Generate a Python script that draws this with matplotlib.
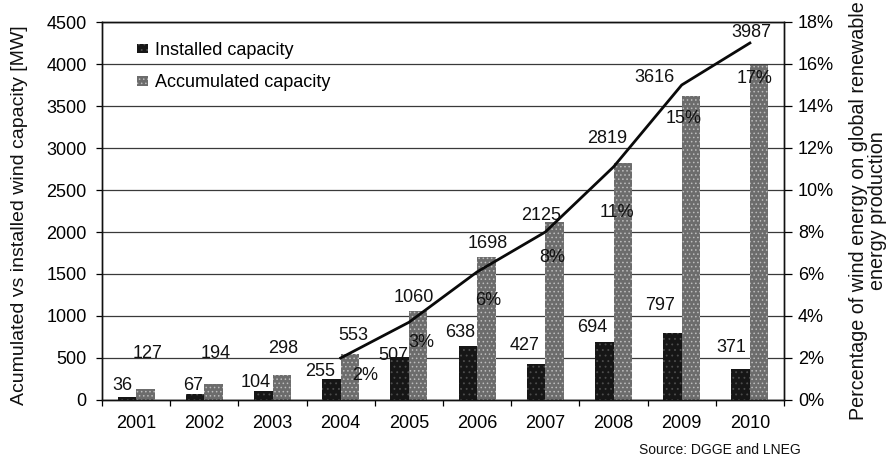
import numpy as np
import matplotlib
matplotlib.use('Agg')
import matplotlib.pyplot as plt
from matplotlib.ticker import FixedLocator, FuncFormatter

# ---------------- data ----------------
years = ['2001', '2002', '2003', '2004', '2005', '2006', '2007', '2008', '2009', '2010']
installed = [36, 67, 104, 255, 507, 638, 427, 694, 797, 371]
accumulated = [127, 194, 298, 553, 1060, 1698, 2125, 2819, 3616, 3987]
pct_years = ['2004', '2005', '2006', '2007', '2008', '2009', '2010']
pct_share = [2.0, 3.7, 6.1, 8.0, 11.1, 15.0, 17.0]
pct_labels = ['2%', '3%', '6%', '8%', '11%', '15%', '17%']
left_ticks = [0, 500, 1000, 1500, 2000, 2500, 3000, 3500, 4000, 4500]
right_ticks = [0, 2, 4, 6, 8, 10, 12, 14, 16, 18]
series_names = ['Installed capacity', 'Accumulated capacity']
left_title = 'Acumulated vs installed wind capacity [MW]'
right_title = 'Percentage of wind energy on global renewable\nenergy production'
source = 'Source: DGGE and LNEG'

# ------------- label placement (pixel offsets, style only) -------------
inst_dx = [-4, -1, -2, -6, -1, -2, -6, -6, -7, -4]
inst_dy = [7, 4, 4, 3, -3, 9, 14, 10, 23, 17]
acc_dx = [2, 2, 1, 3, -4, 1, -13, -16, -36, -8]
acc_dy = [31, 26, 22, 14, 9, 9, 2, 20, 14, 28]
pct_dx = [24, 12, 11, 7, 3, 2, 5]
pct_dy = [-22, -25, -33, -30, -50, -38, -40]

plt.rcParams['font.family'] = ['Liberation Sans', 'DejaVu Sans']
plt.rcParams['hatch.linewidth'] = 0.6
FS = 13

W, H = 888, 459
fig = plt.figure(figsize=(W / 100, H / 100), dpi=100)
ax = fig.add_axes([102 / W, 1 - 400 / H, 682 / W, 378 / H])
ax2 = ax.twinx()

x = np.arange(len(years))
bw = 0.27
b1 = ax.bar(x - bw / 2, installed, bw, color='#161616', edgecolor='#4d4d4d',
            linewidth=0, hatch='...', zorder=2, label=series_names[0])
b2 = ax.bar(x + bw / 2, accumulated, bw, color='#6c6c6c', edgecolor='#bdbdbd',
            linewidth=0, hatch='....', zorder=2, label=series_names[1])

ax.set_xlim(-0.5, len(years) - 0.5)
ax.set_ylim(left_ticks[0], left_ticks[-1])
ax.yaxis.set_major_locator(FixedLocator(left_ticks))
ax.yaxis.grid(True, color='#3a3a3a', linewidth=0.9, zorder=0)
ax.set_axisbelow(True)
ax.set_xticks(x)
ax.set_xticklabels(years)
ax.xaxis.set_minor_locator(FixedLocator(np.arange(-0.5, len(years), 1.0)))
ax.tick_params(axis='x', which='major', length=0, pad=11, labelsize=FS)
ax.tick_params(axis='x', which='minor', length=4, width=0.9, direction='out')
ax.tick_params(axis='y', which='major', length=4, width=0.9, pad=7, labelsize=FS)
for s in ax.spines.values():
    s.set_linewidth(1.0)
    s.set_color('#111111')

ax2.set_ylim(right_ticks[0], right_ticks[-1])
ax2.yaxis.set_major_locator(FixedLocator(right_ticks))
ax2.yaxis.set_major_formatter(FuncFormatter(lambda v, p: f'{int(v)}%'))
ax2.tick_params(axis='y', length=6, width=0.9, pad=4, labelsize=FS)
for s in ax2.spines.values():
    s.set_linewidth(1.0)
    s.set_color('#111111')

px = [years.index(y) for y in pct_years]
ax2.plot(px, pct_share, color='#0a0a0a', linewidth=2.0, zorder=5)

# value labels
for i, v in enumerate(installed):
    ax.annotate(str(v), xy=(x[i], v), xytext=(inst_dx[i], inst_dy[i]),
                textcoords='offset pixels', ha='right', va='baseline',
                fontsize=FS, color='#111111', zorder=6)
for i, v in enumerate(accumulated):
    ax.annotate(str(v), xy=(x[i] + bw / 2, v), xytext=(acc_dx[i], acc_dy[i]),
                textcoords='offset pixels', ha='center', va='baseline',
                fontsize=FS, color='#111111', zorder=6)
for j, v in enumerate(pct_share):
    ax2.annotate(pct_labels[j], xy=(px[j], v), xytext=(pct_dx[j], pct_dy[j]),
                 textcoords='offset pixels', ha='center', va='baseline',
                 fontsize=FS, color='#111111', zorder=6)

ax.legend(handles=[b1, b2], loc='upper left', bbox_to_anchor=(137 / W, 1 - 42 / H),
          bbox_transform=fig.transFigure, frameon=False, fontsize=FS,
          handlelength=0.6, handleheight=0.45, handletextpad=0.4,
          labelspacing=0.85, borderpad=0, borderaxespad=0)

fig.text(20 / W, 1 - 215 / H, left_title, rotation=90, ha='center', va='center',
         fontsize=14, color='#111111')
fig.text(868 / W, 1 - 211 / H, right_title, rotation=90, ha='center', va='center',
         fontsize=14.2, color='#111111', linespacing=0.95, multialignment='center')
fig.text(720 / W, 1 - 450 / H, source, ha='center', va='center', fontsize=10,
         color='#111111')

fig.savefig('out.png', dpi=100, facecolor='white')
